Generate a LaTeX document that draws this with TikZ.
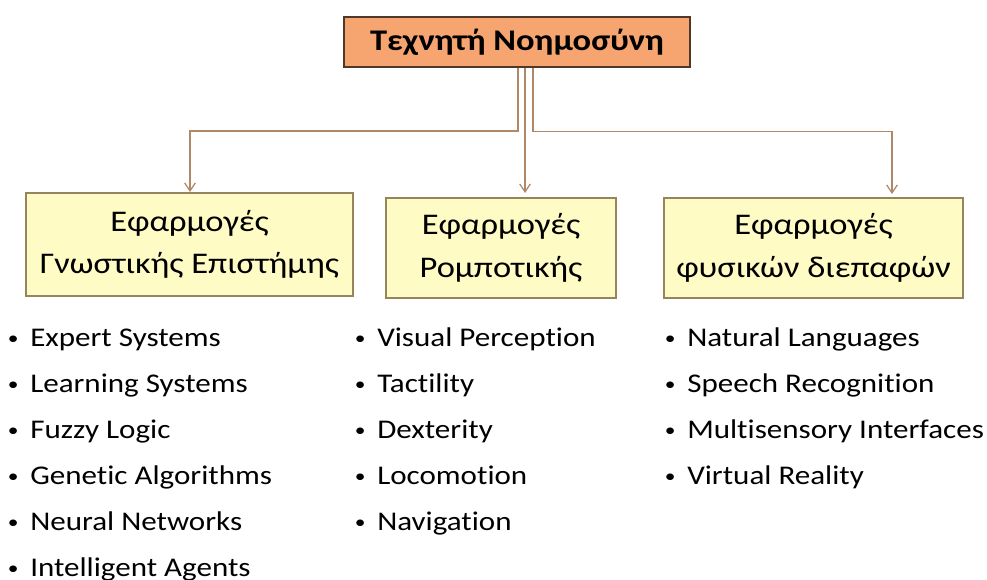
\documentclass[tikz,border=0pt]{standalone}
\usepackage{fontspec}
\setmainfont{Carlito}[FakeStretch=1.15,Ligatures={NoCommon}]
\usetikzlibrary{arrows.meta}
\definecolor{conncol}{RGB}{176,136,104}
\definecolor{boxfill}{RGB}{255,251,196}
\definecolor{boxdraw}{RGB}{150,132,90}
\definecolor{topfill}{RGB}{246,164,112}
\definecolor{topdraw}{RGB}{80,56,40}
\begin{document}
\begin{tikzpicture}[x=0.75pt,y=-0.75pt,
  conn/.style={draw=conncol,line width=1.1pt},
  arr/.style={-{Straight Barb[length=6pt,width=8pt,line width=0.9pt]}},
  appbox/.style={draw=boxdraw,fill=boxfill,line width=0.9pt,inner sep=0pt,
     align=center,font=\fontsize{22.5}{32}\selectfont},
  titlebox/.style={draw=topdraw,fill=topfill,line width=0.9pt,inner sep=0pt,
     font=\fontsize{22.5}{26}\selectfont\bfseries},
  item/.style={anchor=base west,inner sep=0pt,font=\fontsize{20.25}{24}\selectfont}]
\useasboundingbox[fill=white] (0,0) rectangle (987,579);

\node[titlebox,minimum width=346*0.75pt,minimum height=50*0.75pt] (top) at (517,42) {Τεχνητή Νοημοσύνη};

\node[appbox,minimum width=327*0.75pt,minimum height=103*0.75pt] (cog) at (189.5,244.5) {Εφαρμογές\\Γνωστικής Επιστήμης};
\node[appbox,minimum width=230*0.75pt,minimum height=100*0.75pt] (rob) at (501,248) {Εφαρμογές\\Ρομποτικής};
\node[appbox,minimum width=299*0.75pt,minimum height=100*0.75pt] (nat) at (813.5,248) {Εφαρμογές\\φυσικών διεπαφών};

\coordinate (jl) at (518,131);
\coordinate (jm) at (525,131);
\coordinate (jr) at (533,131.5);
\coordinate (el) at (190,192);
\coordinate (em) at (525,193);
\coordinate (er) at (892,194);

\draw[conn,arr] (top.south -| jl) -- (jl) -- (jl -| el) -- (el);
\draw[conn,arr] (top.south -| jm) -- (em);
\draw[conn,arr] (top.south -| jr) -- (jr) -- (jr -| er) -- (er);

\newcommand{\bul}{\llap{\makebox[25.5pt][c]{\raisebox{1.5pt}{\fontsize{14}{14}\selectfont •}}}}
\node[item] (a1) at (30,346) {\bul Expert Systems};
\node[item] (a2) at (30,392) {\bul Learning Systems};
\node[item] (a3) at (30,438) {\bul Fuzzy Logic};
\node[item] (a4) at (30,484) {\bul Genetic Algorithms};
\node[item] (a5) at (30,530) {\bul Neural Networks};
\node[item] (a6) at (30,576) {\bul Intelligent Agents};

\node[item] (b1) at (377,346) {\bul Visual Perception};
\node[item] (b2) at (377,392) {\bul Tactility};
\node[item] (b3) at (377,438) {\bul Dexterity};
\node[item] (b4) at (377,484) {\bul Locomotion};
\node[item] (b5) at (377,530) {\bul Navigation};

\node[item] (c1) at (687,346) {\bul Natural Languages};
\node[item] (c2) at (687,392) {\bul Speech Recognition};
\node[item] (c3) at (687,438) {\bul Multisensory Interfaces};
\node[item] (c4) at (687,484) {\bul Virtual Reality};
\end{tikzpicture}
\end{document}
